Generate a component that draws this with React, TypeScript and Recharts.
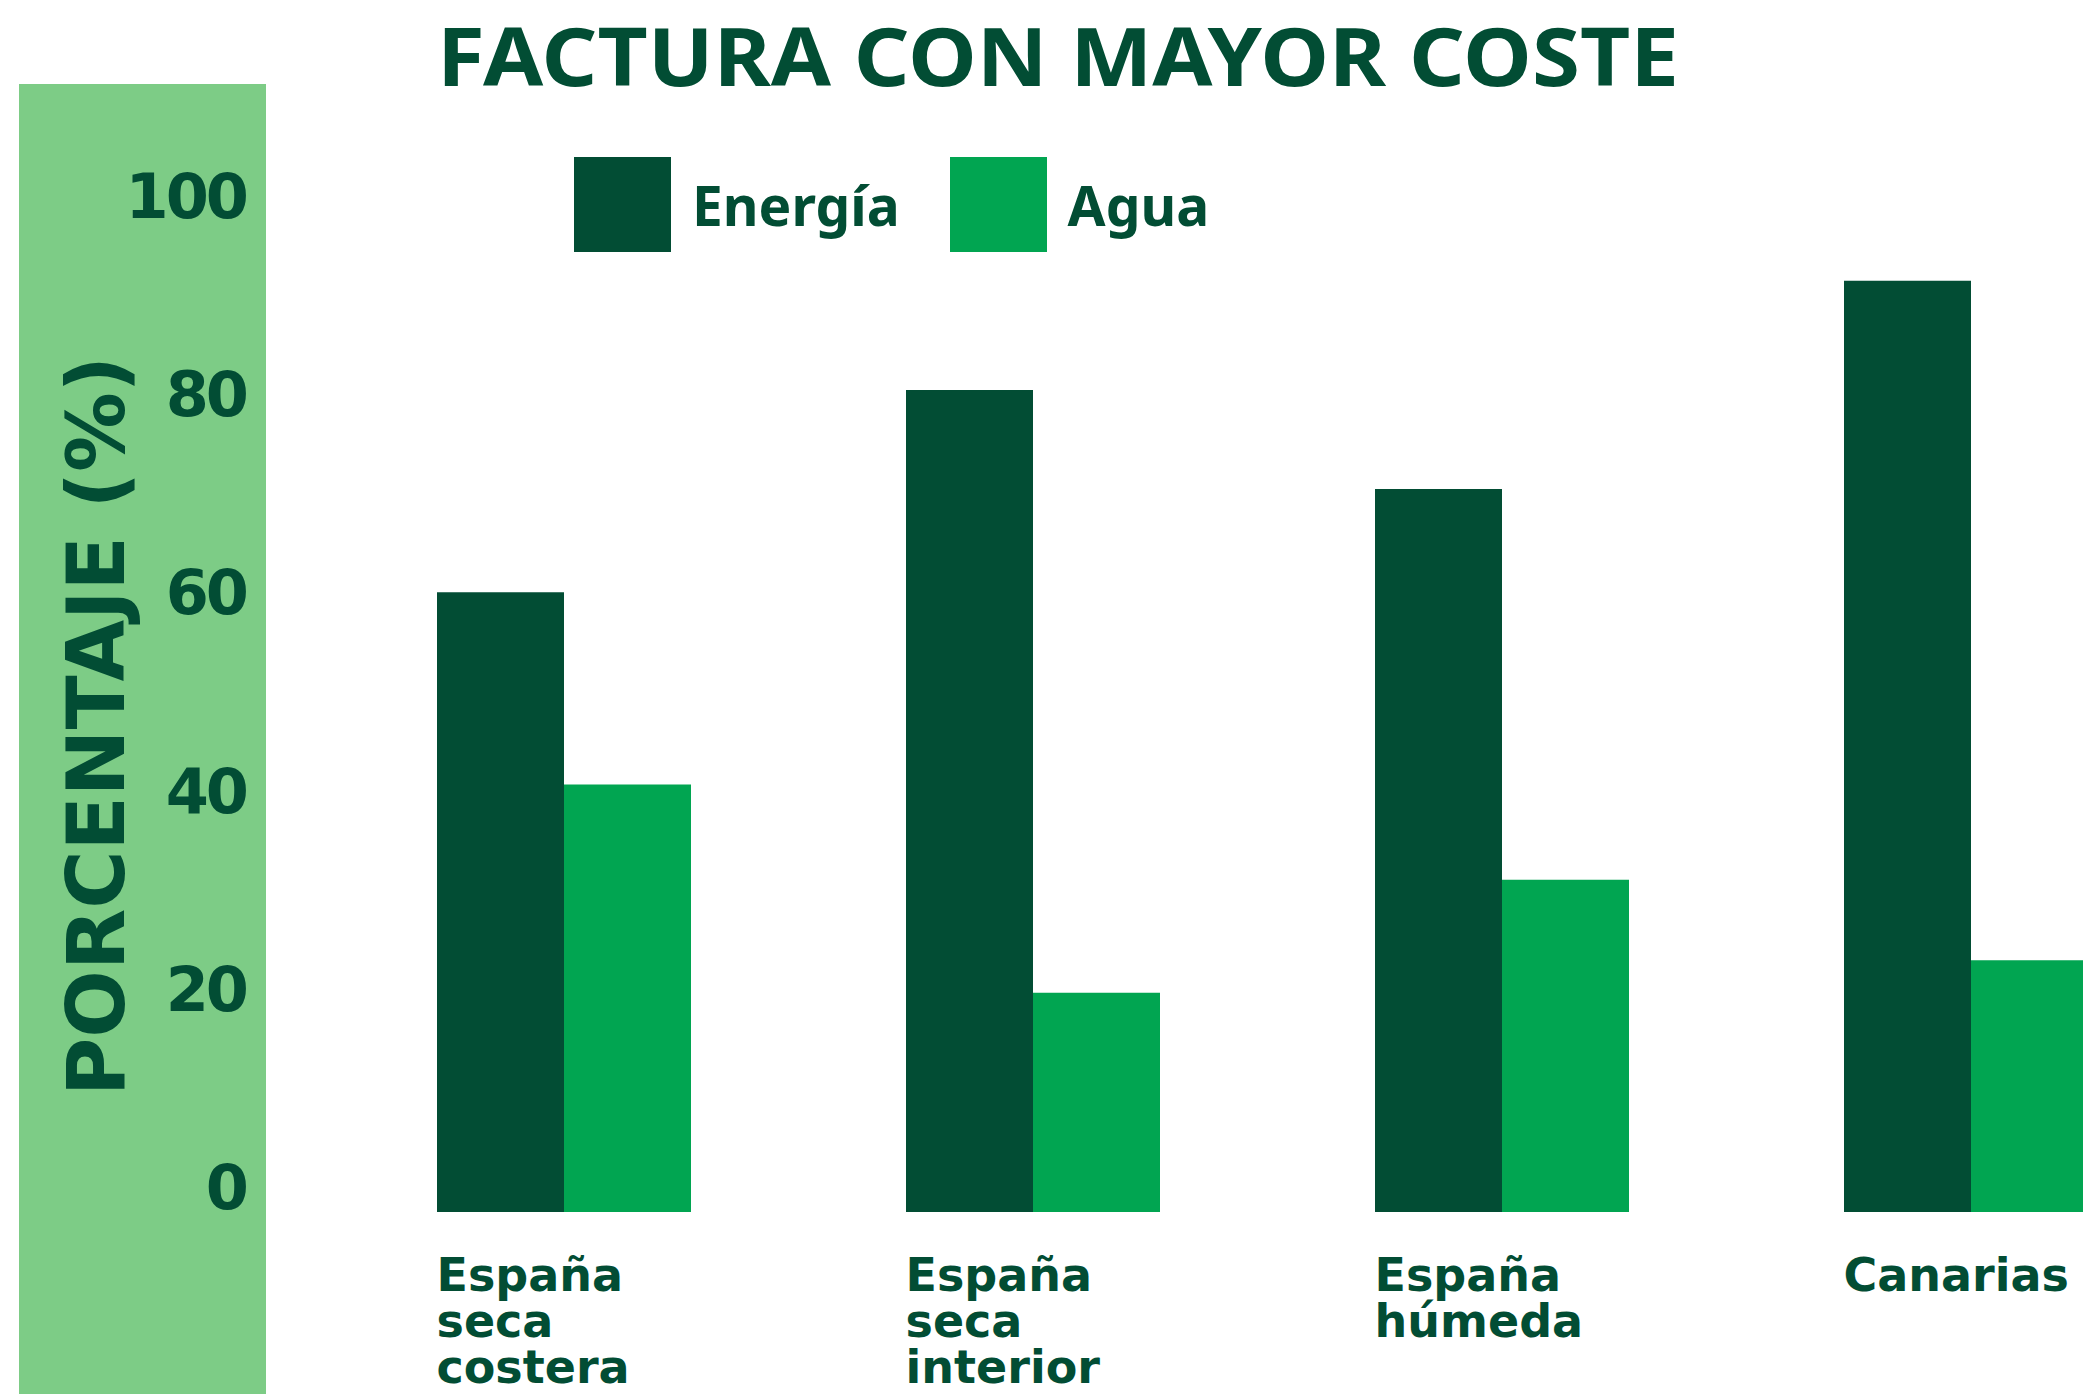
import React from 'react';
import { BarChart, Bar, XAxis, YAxis, Legend } from 'recharts';

// regions on the x axis ("\n" = line break in the tick label)
const categories = ['España\nseca\ncostera', 'España\nseca\ninterior', 'España\nhúmeda', 'Canarias'];

// % of households whose most expensive bill is...
const energia = [60, 80.4, 70.4, 91.4];
const agua = [40.6, 19.6, 31, 22.9];

const seriesNames = ['Energía', 'Agua'];
const yTicks = [0, 20, 40, 60, 80, 100];

const Y_MIN = -2.5; // bars start a little below the 0 tick in the original
const Y_MAX = 105;

const DARK = '#024d34';
const LIGHT = '#01a551';
const BAND = '#7dcc86';
const TEXT = '#024d34';

const data = categories.map((region, i) => ({
  region,
  energia: energia[i],
  agua: agua[i],
}));

const RegionTick = ({ x, y, payload }: any) => {
  const lines = String(payload.value).split('\n');
  return (
    <text
      x={x - 127}
      y={y + 79}
      textAnchor="start"
      fill={TEXT}
      fontFamily="'DejaVu Sans', sans-serif"
      fontWeight={700}
      fontSize={46}
    >
      {lines.map((line, i) => (
        <tspan key={i} x={x - 127} dy={i === 0 ? 0 : 46}>
          {line}
        </tspan>
      ))}
    </text>
  );
};

const AxisTitle = () => (
  <text
    x={124}
    y={726}
    transform="rotate(-90, 124, 726)"
    textAnchor="middle"
    fill={TEXT}
    fontFamily="'DejaVu Sans', sans-serif"
    fontWeight={700}
    fontSize={80}
    textLength={740}
    lengthAdjust="spacingAndGlyphs"
  >
    PORCENTAJE (%)
  </text>
);

const LegendContent = ({ payload }: any) => (
  <div style={{ display: 'flex', alignItems: 'center' }}>
    {(payload || []).map((entry: any, i: number) => (
      <div key={i} style={{ display: 'flex', alignItems: 'center', marginRight: 50 }}>
        <div style={{ width: 97, height: 95, background: entry.color }} />
        <span
          style={{
            marginLeft: 21,
            color: TEXT,
            fontFamily: "'Noto Sans', sans-serif",
            fontWeight: 700,
            fontSize: 55,
            lineHeight: 1,
          }}
        >
          {entry.value}
        </span>
      </div>
    ))}
  </div>
);

export default function App() {
  return (
    <div
      style={{
        position: 'absolute',
        left: 0,
        top: 0,
        width: 2083,
        height: 1394,
        overflow: 'hidden',
        background: '#ffffff',
      }}
    >
      <div style={{ position: 'absolute', left: 19, top: 84, width: 247, height: 1310, background: BAND }} />

      <svg style={{ position: 'absolute', left: 0, top: 0 }} width={2083} height={140}>
        <text
          x={437}
          y={86}
          fill={TEXT}
          fontFamily="'Noto Sans', sans-serif"
          fontWeight={700}
          fontSize={81}
          textLength={1242}
          lengthAdjust="spacingAndGlyphs"
        >
          FACTURA CON MAYOR COSTE
        </text>
      </svg>

      <div style={{ position: 'absolute', left: 0, top: 0 }}>
        <BarChart
          width={2230}
          height={1394}
          data={data}
          margin={{ top: 146, right: 25, bottom: 0, left: 0 }}
          barCategoryGap={108}
          barGap={0}
        >
          <XAxis
            dataKey="region"
            height={182}
            interval={0}
            axisLine={false}
            tickLine={false}
            tickSize={0}
            tickMargin={0}
            tick={<RegionTick />}
          />
          <YAxis
            type="number"
            width={329}
            domain={[Y_MIN, Y_MAX]}
            ticks={yTicks}
            allowDataOverflow
            axisLine={false}
            tickLine={false}
            tickSize={0}
            tickMargin={83}
            tick={{
              fill: TEXT,
              fontSize: 62,
              fontWeight: 700,
              fontFamily: "'DejaVu Sans', sans-serif",
              letterSpacing: -3,
            }}
            label={<AxisTitle />}
          />
          <Legend
            layout="horizontal"
            verticalAlign="middle"
            align="center"
            itemSorter={(item: any) => seriesNames.indexOf(item.value)}
            content={<LegendContent />}
            wrapperStyle={{ position: 'absolute', top: 157, left: 574, width: 'auto', height: 'auto' }}
          />
          <Bar
            name={seriesNames[0]}
            dataKey={(d: any) => [Y_MIN, d.energia]}
            fill={DARK}
            isAnimationActive={false}
          />
          <Bar
            name={seriesNames[1]}
            dataKey={(d: any) => [Y_MIN, d.agua]}
            fill={LIGHT}
            isAnimationActive={false}
          />
        </BarChart>
      </div>
    </div>
  );
}
